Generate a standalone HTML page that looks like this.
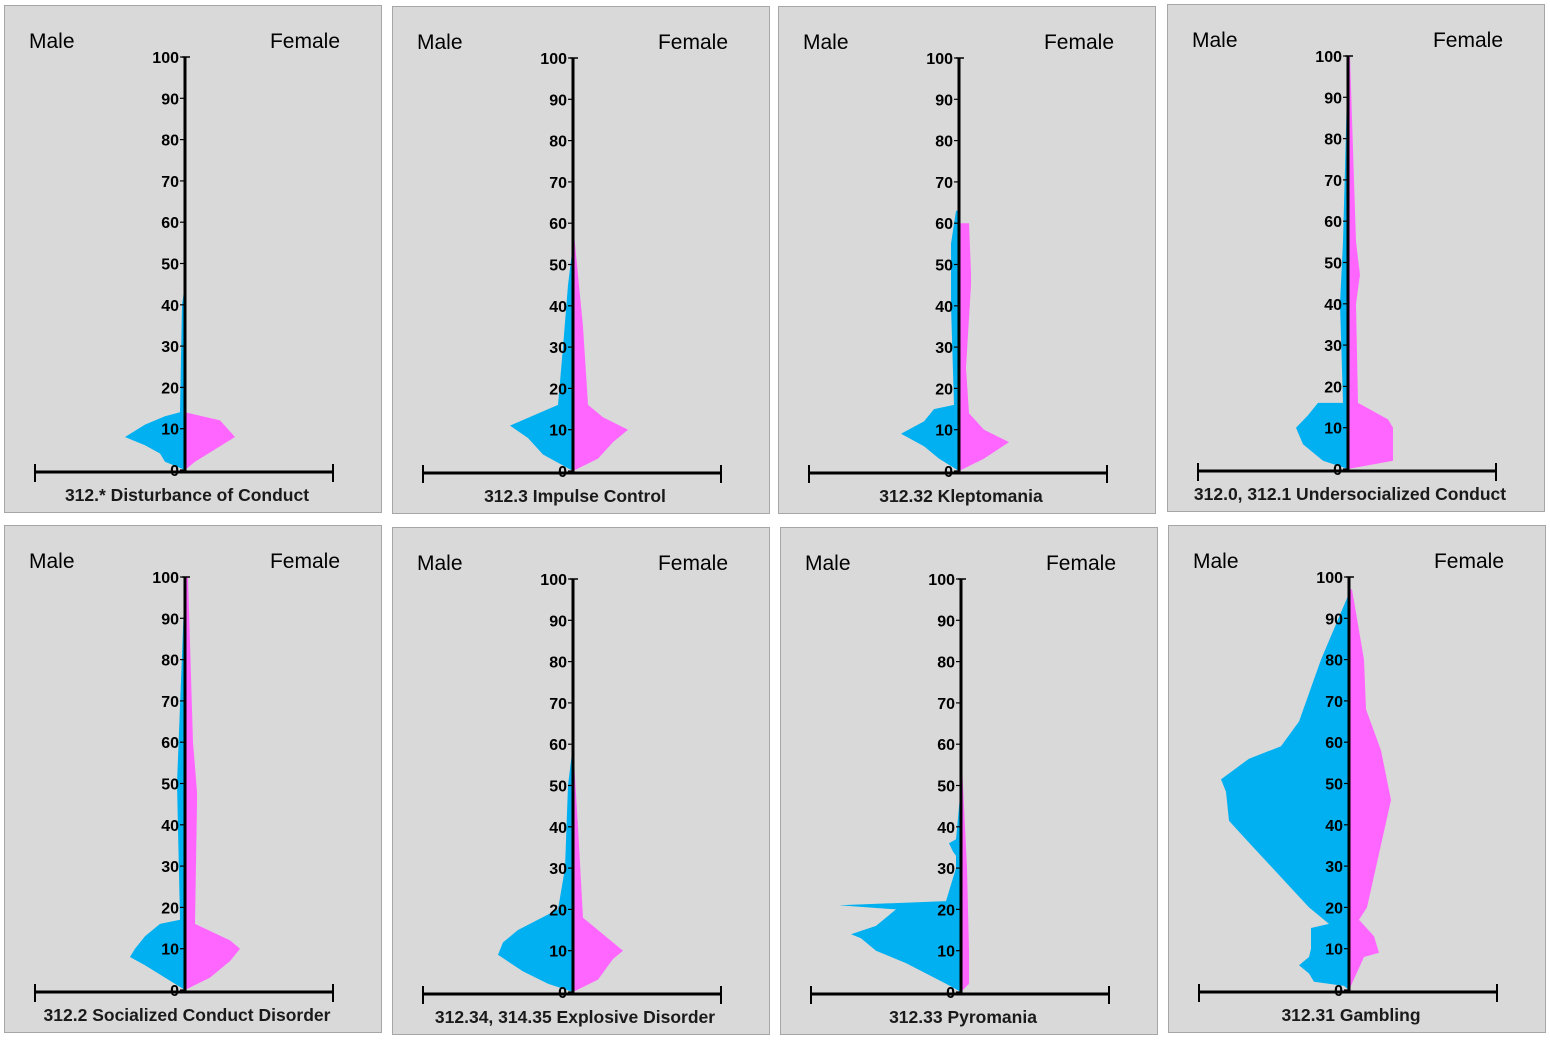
<!DOCTYPE html>
<html><head><meta charset="utf-8"><style>
html,body{margin:0;padding:0;background:#fff;width:1550px;height:1040px;overflow:hidden}
svg{display:block}
text{font-family:"Liberation Sans",sans-serif}
</style></head><body>
<svg id="s" width="1550" height="1040" viewBox="0 0 1550 1040" xmlns="http://www.w3.org/2000/svg"></svg>
<script>
var panels=[
{x:4,y:5,t:"312.* Disturbance of Conduct",
 m:[[0,0],[1,-10],[2,-20],[4,-25],[6,-40],[8,-60],[11,-40],[13,-20],[14,-5],[40,-3],[45,0]],
 f:[[0,0],[2,10],[5,30],[8,50],[12,35],[14,0]]},
{x:392,y:6,t:"312.3 Impulse Control",
 m:[[0,0],[2,-15],[4,-30],[8,-45],[11,-63],[16,-15],[30,-10],[45,-5],[55,0]],
 f:[[0,0],[3,25],[7,40],[10,55],[13,30],[16,15],[35,10],[60,0]]},
{x:778,y:6,t:"312.32 Kleptomania",
 m:[[0,0],[3,-20],[6,-35],[9,-58],[12,-35],[15,-25],[16,-5],[40,-8],[55,-8],[63,-3],[63,0]],
 f:[[0,0],[3,25],[7,50],[10,25],[14,10],[25,7],[45,12],[48,12],[60,10],[60,0]]},
{x:1167,y:4,t:"312.0, 312.1 Undersocialized Conduct",
 m:[[0,0],[2,-25],[6,-45],[10,-52],[13,-40],[16,-30],[16,-5],[40,-8],[55,-5],[100,0]],
 f:[[0,0],[2,45],[10,45],[12,40],[16,10],[40,8],[47,12],[55,8],[100,2],[100,0]]},
{x:4,y:525,t:"312.2 Socialized Conduct Disorder",
 m:[[0,0],[3,-20],[6,-40],[8,-55],[10,-50],[13,-40],[16,-25],[17,-5],[50,-8],[100,0]],
 f:[[0,0],[3,25],[7,45],[10,55],[12,45],[16,10],[45,12],[48,12],[60,8],[100,3],[100,0]]},
{x:392,y:527,t:"312.34, 314.35 Explosive Disorder",
 m:[[0,0],[2,-25],[5,-50],[9,-75],[12,-70],[15,-55],[20,-15],[30,-8],[50,-5],[60,0]],
 f:[[0,0],[3,25],[8,40],[10,50],[14,30],[18,10],[40,5],[60,0]]},
{x:780,y:527,t:"312.33 Pyromania",
 m:[[0,0],[2,-15],[7,-55],[10,-85],[13,-100],[14,-110],[16,-85],[20,-65],[21,-122],[22,-15],[30,-5],[33,-5],[34,-8],[36,-12],[37,-5],[50,0]],
 f:[[0,0],[2,8],[10,8],[30,6],[45,3],[60,0]]},
{x:1168,y:525,t:"312.31 Gambling",
 m:[[0,0],[1,-5],[2,-35],[4,-40],[6,-50],[8,-40],[10,-38],[15,-38],[16,-20],[20,-40],[37,-105],[41,-120],[48,-123],[51,-128],[56,-100],[59,-68],[65,-50],[80,-28],[96,0]],
 f:[[0,0],[8,15],[9,30],[13,25],[17,10],[20,18],[46,42],[58,32],[68,17],[80,15],[97,3],[97,0]]}
];
var h="";
panels.forEach(function(p){
 var X=p.x,Y=p.y,ax=X+181;
 function yy(v){return Y+465-4.13*v}
 h+='<rect x="'+(X+0.5)+'" y="'+(Y+0.5)+'" width="377" height="507" fill="#d9d9d9" stroke="#a6a6a6"/>';
 function poly(a,c){var s=a.map(function(q){return (ax+q[1]).toFixed(1)+','+yy(q[0]).toFixed(1)}).join(' ');
  h+='<polygon points="'+s+'" fill="'+c+'"/>';}
 poly(p.m,"#00b0f0");poly(p.f,"#ff66ff");
 h+='<line x1="'+ax+'" y1="'+yy(100)+'" x2="'+ax+'" y2="'+(Y+467)+'" stroke="#000" stroke-width="3"/>';
 h+='<line x1="'+(ax-3)+'" y1="'+yy(100)+'" x2="'+(ax+5)+'" y2="'+yy(100)+'" stroke="#000" stroke-width="1.5"/>';
 for(var v=0;v<=100;v+=10){
  h+='<line x1="'+(ax-5)+'" y1="'+yy(v)+'" x2="'+ax+'" y2="'+yy(v)+'" stroke="#000" stroke-width="1.2"/>';
  h+='<text x="'+(ax-6)+'" y="'+(yy(v)+6)+'" font-size="16" font-weight="bold" text-anchor="end" fill="#000">'+v+'</text>';
 }
 h+='<line x1="'+(X+31)+'" y1="'+(Y+467)+'" x2="'+(X+329)+'" y2="'+(Y+467)+'" stroke="#000" stroke-width="3"/>';
 h+='<line x1="'+(X+31)+'" y1="'+(Y+459)+'" x2="'+(X+31)+'" y2="'+(Y+477)+'" stroke="#000" stroke-width="2"/>';
 h+='<line x1="'+(X+329)+'" y1="'+(Y+459)+'" x2="'+(X+329)+'" y2="'+(Y+477)+'" stroke="#000" stroke-width="2"/>';
 h+='<text x="'+(X+25)+'" y="'+(Y+43)+'" font-size="21" fill="#000">Male</text>';
 h+='<text x="'+(X+336)+'" y="'+(Y+43)+'" font-size="21" fill="#000" text-anchor="end">Female</text>';
 h+='<text x="'+(X+183)+'" y="'+(Y+496)+'" font-size="17.5" font-weight="bold" fill="#1a1a1a" text-anchor="middle">'+p.t+'</text>';
});
document.getElementById("s").innerHTML=h;
</script>
</body></html>
